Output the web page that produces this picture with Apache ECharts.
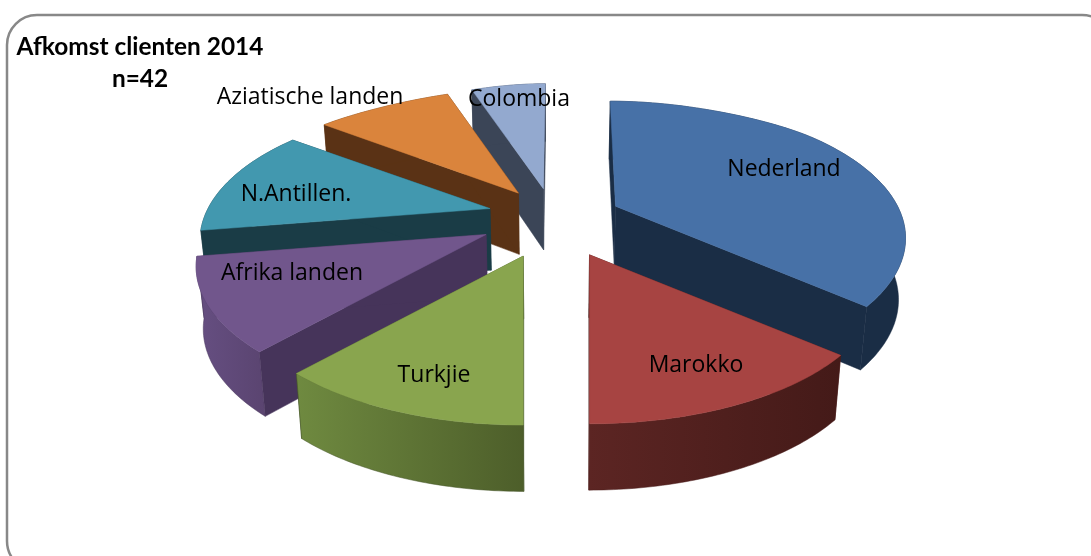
<!DOCTYPE html>
<html><head><meta charset="utf-8">
<style>html,body{margin:0;padding:0;background:#fff}#c{width:1091px;height:556px}</style>
<script src="https://cdn.jsdelivr.net/npm/echarts@6/dist/echarts.min.js"></script>
</head><body><div id="c"></div>
<script>
// --- data ---
const categories = ['Nederland','Marokko','Turkjie','Afrika landen','N.Antillen.','Aziatische landen','Colombia'];
const clients = [14,7,6,5,5,3,2];
// --- styles ---
const topColors  = ['#4771A7','#A74442','#89A54E','#71568C','#4298AF','#DA843C','#93A9CF'];
const wallColors = ['#1A2D45','#4A1C1A','#47572A','#46345A','#1A3C46','#5A3215','#3B4557'];
const rimLeft    = ['#1A2D45','#5C2523','#6F8A40','#664F82','#1A3C46','#5A3215','#3B4557'];
const rimRight   = ['#1A2D45','#441A18','#4D5E2A','#5A4470','#1A3C46','#5A3215','#3B4557'];
const labelCentres = [[784,169],[696,365],[434,375],[292,273],[296,194],[310,97],[519,99]];
// --- projection of the exploded pie ---
const cx=554, cy=224, f=290, t=137, cone=32, explodeX=0.245, explodeZ=0.26, taper=0.98;
function project(X,Z,r,down){
  const far=Math.max(0,Z-0.85);
  const back=1-1.1*far*far;   // the far rim narrows smoothly
  let x=cx+f*X*back, y=cy-t*Z+cone*r;
  if(down){ x=cx+(x-cx)*taper; y+=62-3.5*Z; }
  return [x,y];
}
const total=clients.reduce((a,b)=>a+b,0);
let acc=0;
const slices=clients.map((v,i)=>{
  const a0=acc/total*2*Math.PI; acc+=v; const a1=acc/total*2*Math.PI; const mid=(a0+a1)/2;
  return {i,a0,a1,mid,ox:explodeX*Math.sin(mid),oz:explodeZ*Math.cos(mid)};
});
const order=slices.slice().sort((p,q)=>q.oz-p.oz).map(s=>s.i);
function renderItem(params){
  const s=slices[params.dataIndex], i=s.i, rank=order.indexOf(i);
  const pt=(a,r,down)=>project(s.ox+r*Math.sin(a),s.oz+r*Math.cos(a),r,down);
  const arcT=[],arcB=[];
  const n=Math.max(4,Math.round((s.a1-s.a0)*180/Math.PI));
  for(let j=0;j<=n;j++){const a=s.a0+(s.a1-s.a0)*j/n;arcT.push(pt(a,1,false));arcB.push(pt(a,1,true));}
  const apexT=pt(0,0,false),apexB=pt(0,0,true);
  const poly=(points,fill,z)=>({type:'polygon',z2:rank*10+z,shape:{points},style:{fill,stroke:typeof fill==='string'?fill:wallColors[i],lineWidth:0.5}});
  const rim=new echarts.graphic.LinearGradient(0,0,1,0,[{offset:0,color:rimLeft[i]},{offset:1,color:rimRight[i]}]);
  return {type:'group',children:[
    poly([apexT,arcT[0],arcB[0],apexB],wallColors[i],1),
    poly([apexT,arcT[n],arcB[n],apexB],wallColors[i],1),
    poly(arcT.concat(arcB.slice().reverse()),rim,2),
    poly([apexT].concat(arcT),topColors[i],3),
    {type:'text',z2:1000,x:labelCentres[i][0],y:labelCentres[i][1],
     style:{text:categories[i],fill:'#000',font:'23px "Open Sans"',align:'center',verticalAlign:'middle'}}
  ]};
}
const chart=echarts.init(document.getElementById('c'),null,{renderer:'canvas'});
chart.setOption({
  animation:false,
  backgroundColor:'#fff',
  title:{text:'Afkomst clienten 2014\nn=42',left:135,top:26,textAlign:'center',
    textStyle:{fontFamily:'Lato',fontWeight:'bold',fontSize:24.4,lineHeight:32,color:'#000'}},
  graphic:[{type:'rect',z:-1,shape:{x:7,y:15,width:1105,height:556,r:30},style:{fill:'#fff',stroke:'#888',lineWidth:2.5}}],
  series:[{type:'custom',coordinateSystem:'none',renderItem,
    data:categories.map((name,i)=>({name,value:clients[i]}))}]
});
</script></body></html>
